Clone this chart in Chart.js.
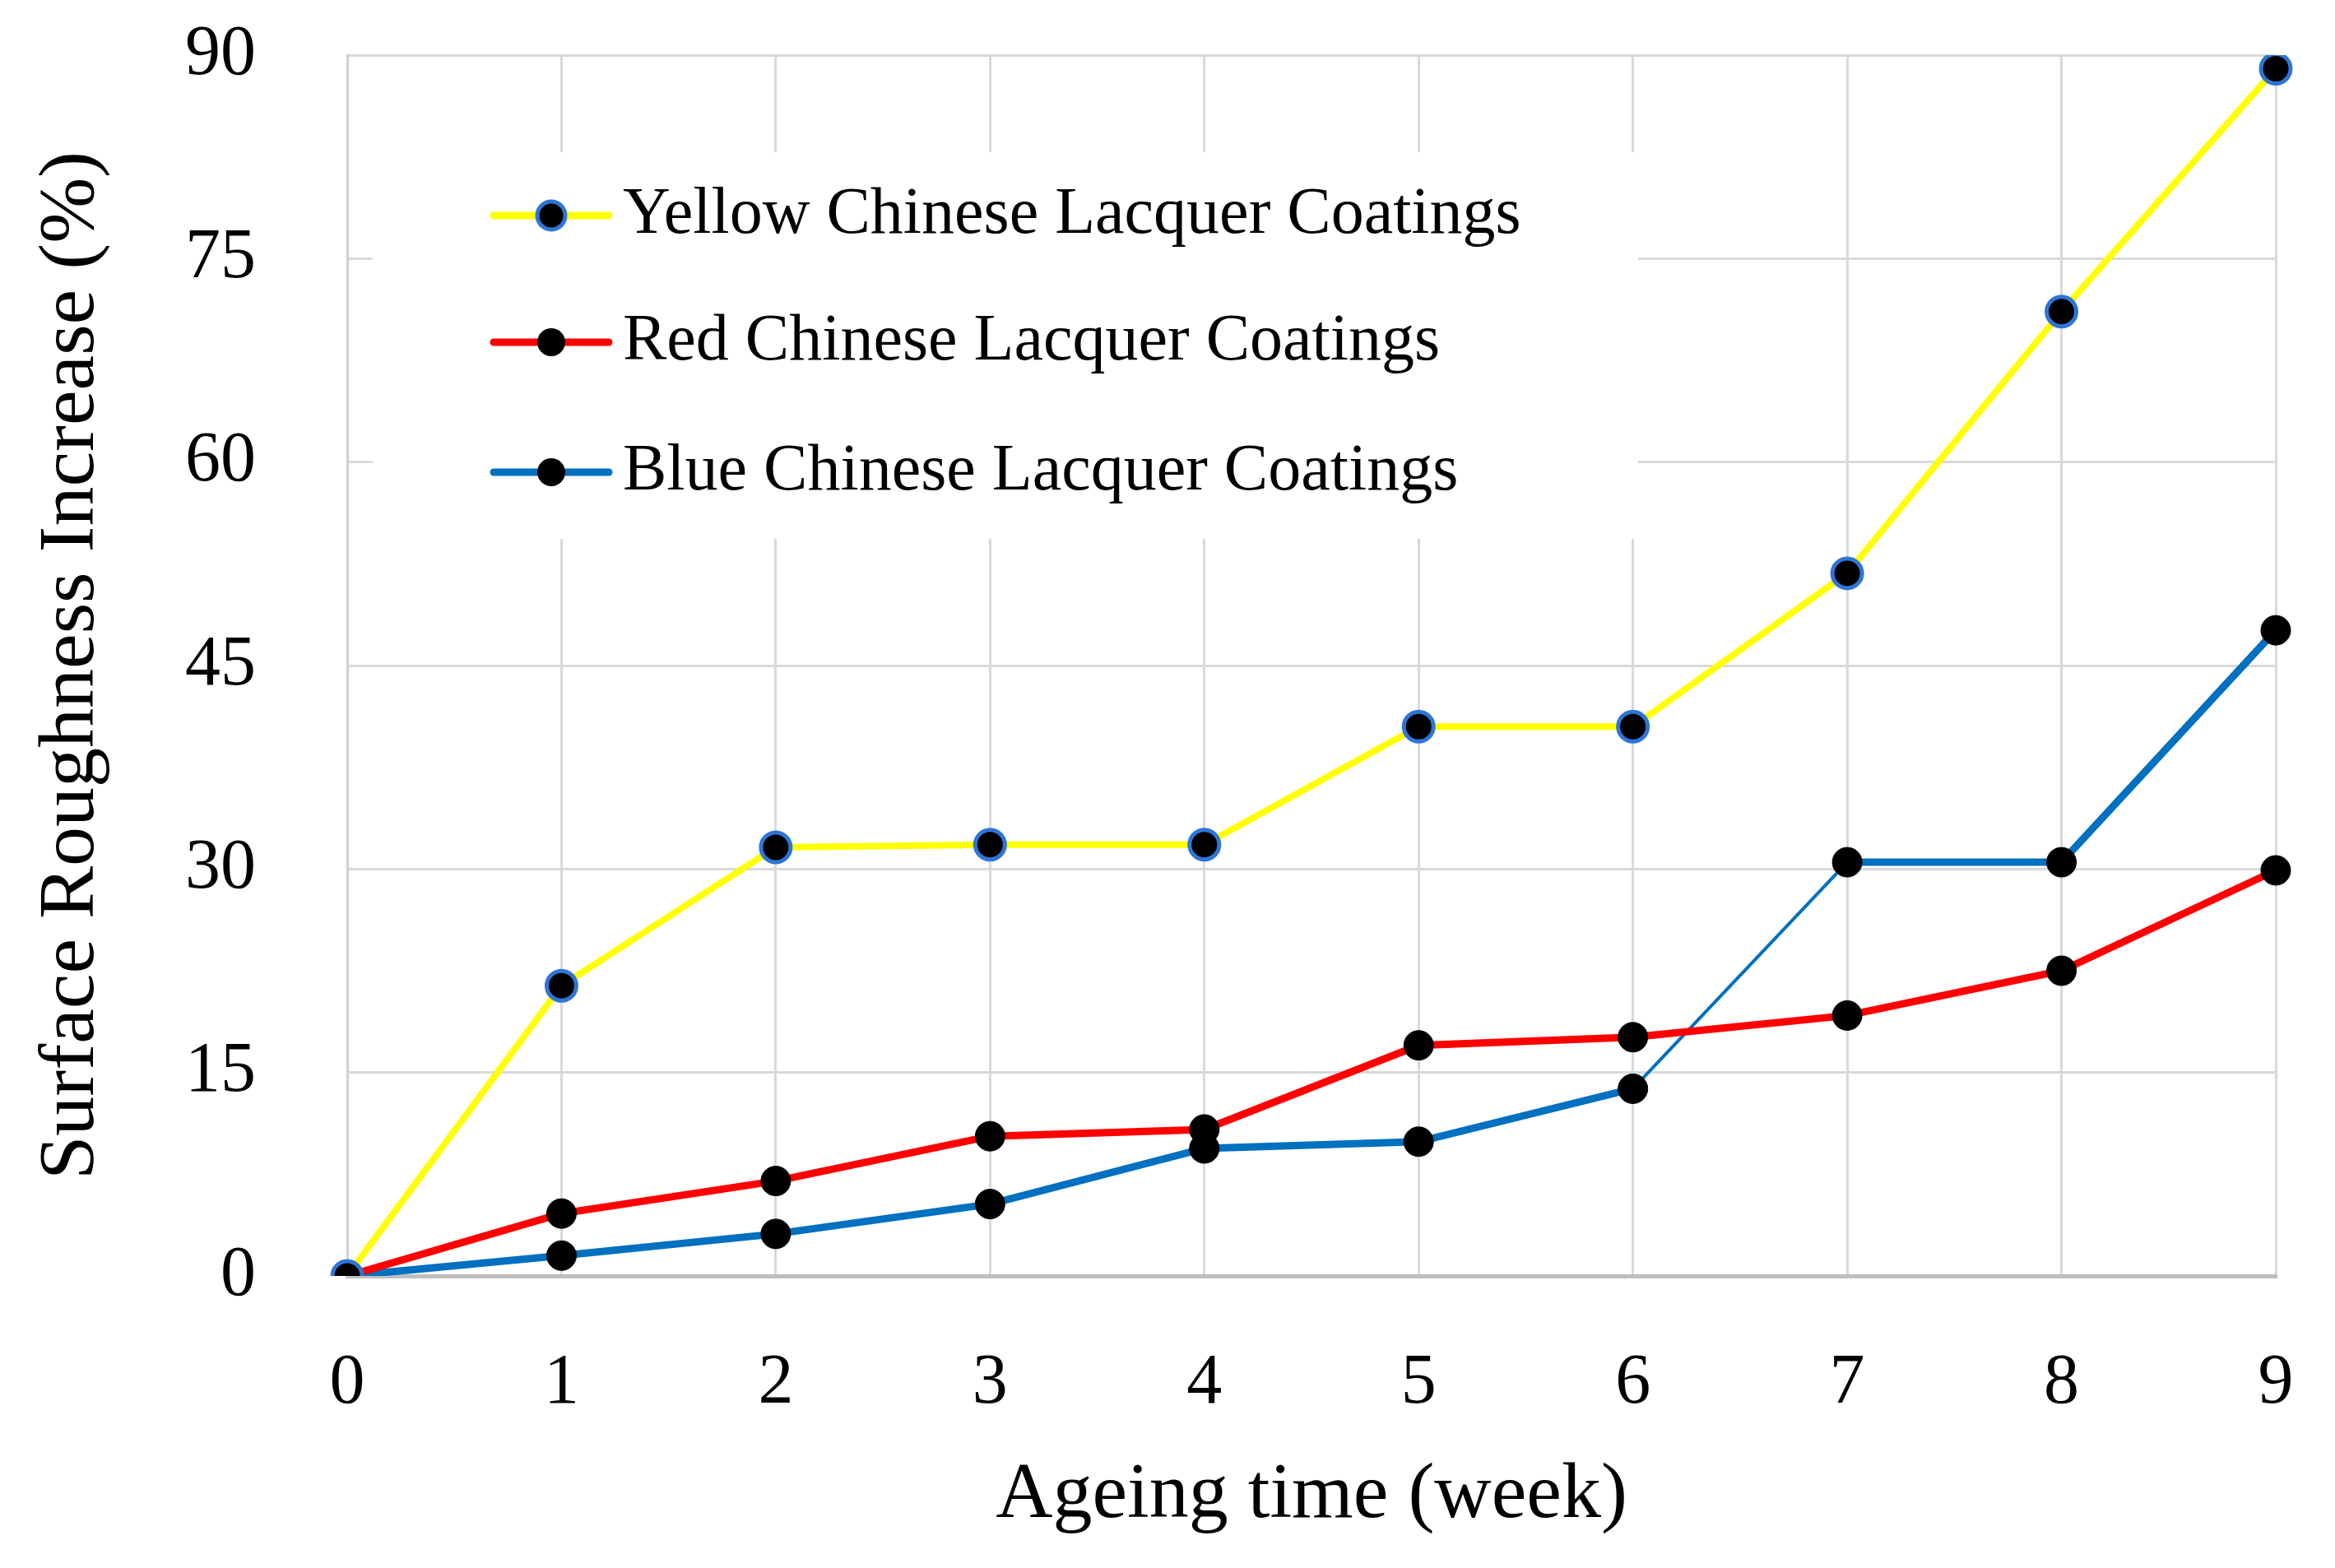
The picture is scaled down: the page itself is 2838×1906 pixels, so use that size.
<!DOCTYPE html>
<html>
<head>
<meta charset="utf-8">
<script src="https://cdn.jsdelivr.net/npm/chart.js@4.4.0/dist/chart.umd.min.js"></script>
<style>
  html, body { margin: 0; padding: 0; background: #fff; }
  #wrap { width: 2838px; height: 1906px; }
</style>
</head>
<body>
<div id="wrap"><canvas id="roughnessChart"></canvas></div>
<script>
// ageing time in weeks
const weeks = [0, 1, 2, 3, 4, 5, 6, 7, 8, 9];
const yTicks = [0, 15, 30, 45, 60, 75, 90];

// surface roughness increase (%)
const yellowValues = [0, 21.4, 31.6, 31.8, 31.8, 40.5, 40.5, 51.8, 71.1, 89.0];
const redValues = [0, 4.6, 7.0, 10.3, 10.8, 17.0, 17.6, 19.2, 22.5, 29.9];
const blueValues = [0, 1.5, 3.1, 5.3, 9.4, 9.9, 13.8, 30.5, 30.5, 47.6];

const seriesLabels = [
    'Yellow Chinese Lacquer Coatings',
    'Red Chinese Lacquer Coatings',
    'Blue Chinese Lacquer Coatings'
];

const FONT = "'Liberation Serif', 'Times New Roman', serif";

// legend sits inside the plot on a white box
const insideLegend = {
    id: 'insideLegend',
    beforeDatasetsDraw(chart) {
        const ctx = chart.ctx;
        ctx.save();
        ctx.fillStyle = '#ffffff';
        ctx.fillRect(453, 185, 1538, 470);
        const rows = [262, 416, 574];
        chart.data.datasets.forEach((ds, i) => {
            const y = rows[i];
            ctx.strokeStyle = ds.borderColor;
            ctx.lineWidth = 9;
            ctx.lineCap = 'round';
            ctx.beginPath();
            ctx.moveTo(600, y);
            ctx.lineTo(740, y);
            ctx.stroke();
            ctx.beginPath();
            ctx.arc(670, y, 17, 0, Math.PI * 2);
            ctx.fillStyle = '#000';
            ctx.fill();
            if (ds.pointBorderColor !== '#000000') {
                ctx.lineWidth = 5;
                ctx.strokeStyle = ds.pointBorderColor;
                ctx.stroke();
            }
            ctx.fillStyle = '#000';
            ctx.font = '80px ' + FONT;
            ctx.textBaseline = 'middle';
            ctx.textAlign = 'left';
            ctx.fillText(ds.label, 757, y);
        });
        ctx.restore();
    }
};

new Chart(document.getElementById('roughnessChart').getContext('2d'), {
    type: 'line',
    data: {
        labels: weeks,
        datasets: [
            {
                label: seriesLabels[0],
                data: yellowValues,
                borderColor: '#ffff00',
                borderWidth: 8,
                pointRadius: 18,
                pointBackgroundColor: '#000000',
                pointBorderColor: '#2e75d6',
                pointBorderWidth: 5
            },
            {
                label: seriesLabels[1],
                data: redValues,
                borderColor: '#ff0000',
                borderWidth: 9,
                pointRadius: 18,
                pointBackgroundColor: '#000000',
                pointBorderColor: '#000000',
                pointBorderWidth: 1
            },
            {
                label: seriesLabels[2],
                data: blueValues,
                borderColor: '#0070c0',
                borderWidth: 9,
                pointRadius: 18,
                pointBackgroundColor: '#000000',
                pointBorderColor: '#000000',
                pointBorderWidth: 1,
                segment: {
                    borderWidth: c => (c.p0DataIndex === 6 ? 4 : 9)
                }
            }
        ]
    },
    options: {
        responsive: true,
        maintainAspectRatio: false,
        animation: false,
        layout: { padding: { left: 0, right: 72, top: 67, bottom: 0 } },
        plugins: {
            legend: { display: false },
            tooltip: { enabled: false }
        },
        scales: {
            x: {
                grid: { color: '#d9d9d9', lineWidth: 3, drawTicks: false },
                border: { color: '#bfbfbf', width: 5 },
                ticks: { color: '#000', padding: 80, font: { family: FONT, size: 86 } },
                title: {
                    display: true,
                    text: 'Ageing time (week)',
                    color: '#000',
                    font: { family: FONT, size: 96 },
                    padding: { top: 30, bottom: 30 }
                },
                afterFit(scale) {
                    scale.height = 355;
                    scale.paddingLeft = 0;
                    scale.paddingRight = 0;
                }
            },
            y: {
                min: 0,
                max: 90,
                afterBuildTicks(scale) { scale.ticks = yTicks.map(v => ({ value: v })); },
                grid: { color: '#d9d9d9', lineWidth: 3, drawTicks: false },
                border: { color: '#d0d0d0', width: 3 },
                ticks: { color: '#000', padding: 111, font: { family: FONT, size: 86 } },
                title: {
                    display: true,
                    text: 'Surface Roughness Increase (%)',
                    color: '#000',
                    font: { family: FONT, size: 96 },
                    padding: { top: 30, bottom: 30 }
                },
                afterFit(scale) {
                    scale.width = 422;
                    scale.paddingTop = 0;
                    scale.paddingBottom = 0;
                }
            }
        }
    },
    plugins: [insideLegend]
});
</script>
</body>
</html>
